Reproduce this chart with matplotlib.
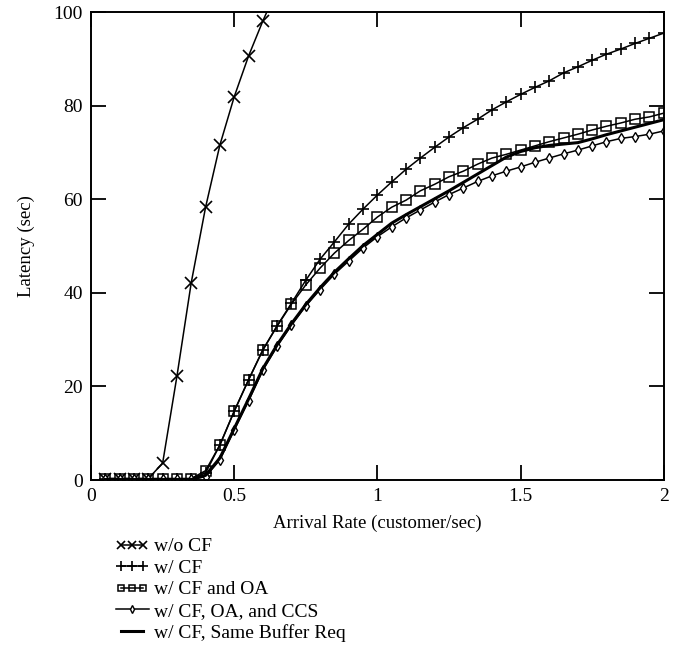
import matplotlib
matplotlib.use('Agg')
import matplotlib.pyplot as plt
from matplotlib.legend_handler import HandlerLine2D

plt.rcParams['font.family'] = ['Liberation Serif', 'DejaVu Serif']
plt.rcParams['mathtext.fontset'] = 'stix'

# arrival rate (customer/sec)
rate = [0.05, 0.10, 0.15, 0.20, 0.25, 0.30, 0.35, 0.40, 0.45, 0.50,
        0.55, 0.60, 0.65, 0.70, 0.75, 0.80, 0.85, 0.90, 0.95, 1.00,
        1.05, 1.10, 1.15, 1.20, 1.25, 1.30, 1.35, 1.40, 1.45, 1.50,
        1.55, 1.60, 1.65, 1.70, 1.75, 1.80, 1.85, 1.90, 1.95, 2.00]

wo_cf_rate = [0.05, 0.10, 0.15, 0.20, 0.25, 0.30, 0.35, 0.40, 0.45, 0.50,
              0.55, 0.60, 0.65]
wo_cf = [0.3, 0.3, 0.3, 0.3, 3.6, 22.2, 42.2, 58.3, 71.6, 81.9,
         90.6, 98.1, 105.0]

w_cf = [0.3, 0.3, 0.3, 0.3, 0.3, 0.3, 0.3, 1.5, 7.5, 14.7,
        21.4, 27.8, 33.0, 37.8, 42.7, 47.2, 50.9, 54.7, 57.9, 60.9,
        63.7, 66.4, 68.8, 71.1, 73.3, 75.3, 77.1, 79.1, 80.8, 82.4,
        83.9, 85.3, 87.0, 88.3, 89.7, 91.0, 92.1, 93.3, 94.4, 95.5]

w_cf_oa = [0.3, 0.3, 0.3, 0.3, 0.3, 0.3, 0.3, 2.0, 7.5, 14.7,
           21.4, 27.8, 32.9, 37.6, 41.7, 45.3, 48.5, 51.2, 53.6, 56.2,
           58.3, 59.8, 61.8, 63.2, 64.8, 66.0, 67.5, 68.8, 69.6, 70.5,
           71.4, 72.3, 73.1, 73.9, 74.8, 75.6, 76.3, 77.1, 77.6, 78.4]

w_cf_oa_ccs = [0.2, 0.2, 0.2, 0.2, 0.2, 0.2, 0.2, 0.7, 4.3, 10.7,
               16.9, 23.5, 28.6, 33.1, 37.2, 40.7, 44.0, 46.8, 49.6, 52.0,
               54.1, 56.0, 57.7, 59.4, 61.0, 62.4, 63.8, 65.0, 66.0, 66.9,
               67.9, 68.8, 69.7, 70.5, 71.4, 72.3, 73.0, 73.4, 73.9, 74.6]

same_buffer = [0.1, 0.1, 0.1, 0.1, 0.1, 0.1, 0.1, 1.0, 4.7, 11.0,
               17.3, 23.8, 28.9, 33.4, 37.5, 41.1, 44.4, 47.3, 50.1, 52.5,
               54.9, 56.7, 58.4, 60.1, 61.8, 63.6, 65.4, 67.2, 69.0, 70.2,
               71.0, 71.5, 71.8, 72.1, 72.9, 73.8, 74.6, 75.4, 76.2, 77.0]

labels = ['w/o CF', 'w/ CF', 'w/ CF and OA', 'w/ CF, OA, and CCS',
          'w/ CF, Same Buffer Req']

fig = plt.figure(figsize=(6.95, 6.6), dpi=100)
ax = fig.add_axes([0.131, 0.2727, 0.824, 0.709])

l1, = ax.plot(wo_cf_rate, wo_cf, color='black', lw=1.1, marker='x',
              ms=8, mew=1.2)
l2, = ax.plot(rate, w_cf, color='black', lw=1.1, marker='+',
              ms=9, mew=1.2)
l3, = ax.plot(rate, w_cf_oa, color='black', lw=1.1, marker='s',
              ms=6.5, mew=1.1, mfc='none')
l4, = ax.plot(rate, w_cf_oa_ccs, color='black', lw=1.1, marker='d',
              ms=5.5, mew=1.0, mfc='white')
l5, = ax.plot(rate, same_buffer, color='black', lw=2.2)

ax.set_xlim(0, 2)
ax.set_ylim(0, 100)
ax.set_xticks([0, 0.5, 1, 1.5, 2])
ax.set_xticklabels(['0', '0.5', '1', '1.5', '2'])
ax.set_yticks([0, 20, 40, 60, 80, 100])
ax.tick_params(direction='in', length=11, width=1.3, top=True, right=True,
               labelsize=14, pad=6)
for s in ax.spines.values():
    s.set_linewidth(1.4)

ax.set_xlabel('Arrival Rate (customer/sec)', fontsize=13.5, labelpad=7)
ax.set_ylabel('Latency (sec)', fontsize=13.5, labelpad=13)

fig.legend([l1, l2, l3, l4, l5], labels, loc='upper left',
           bbox_to_anchor=(0.155, 0.197), frameon=False, fontsize=14,
           numpoints=3, markerscale=0.75, handlelength=1.7,
           handletextpad=0.3, labelspacing=0.2, borderaxespad=0,
           handler_map={l4: HandlerLine2D(numpoints=1)})

fig.savefig('out.png', dpi=100)
